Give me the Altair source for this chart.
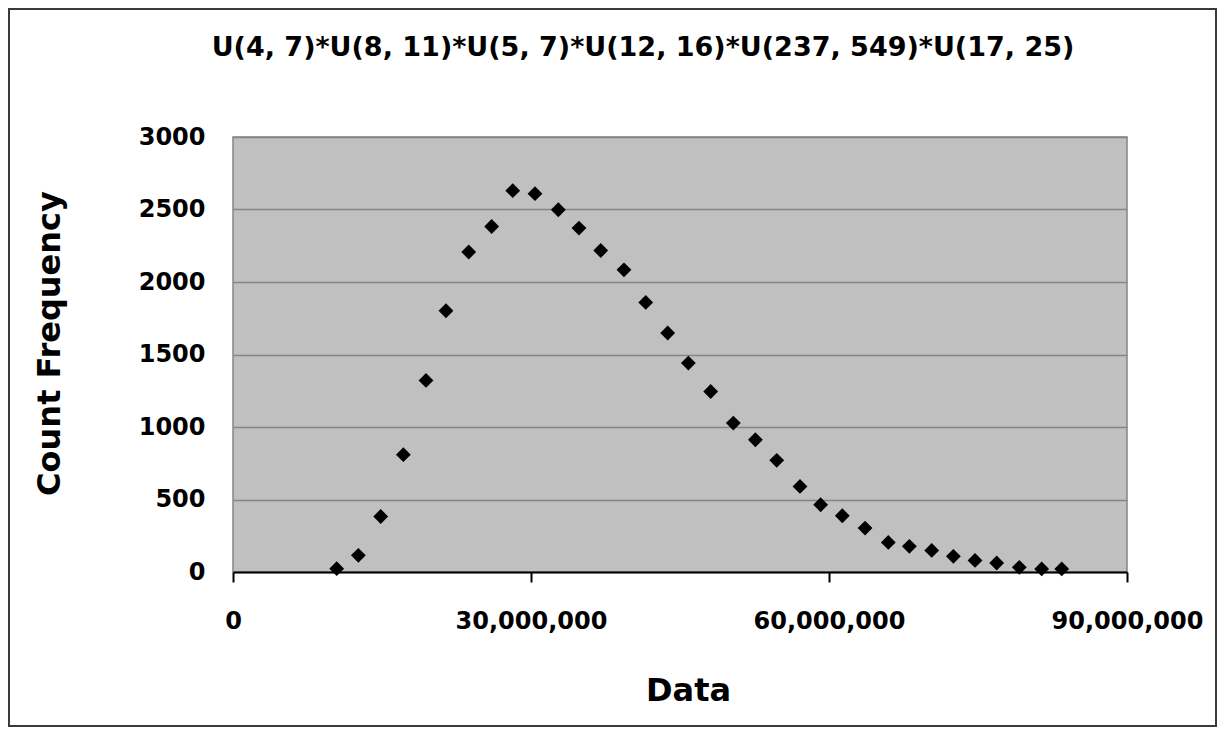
import altair as alt
import pandas as pd

# Data
data_x = [10440000, 12620000, 14870000, 17150000, 19430000, 21440000, 23730000,
          26040000, 28160000, 30400000, 32750000, 34830000, 37020000, 39360000,
          41550000, 43760000, 45840000, 48090000, 50370000, 52590000, 54740000,
          57080000, 59160000, 61340000, 63630000, 65970000, 68090000, 70340000,
          72520000, 74700000, 76880000, 79160000, 81410000, 83430000]
count_freq = [23, 115, 383, 809, 1321, 1802, 2207, 2383, 2630, 2609, 2498, 2372,
              2217, 2084, 1859, 1648, 1441, 1245, 1027, 912, 770, 590, 464, 388,
              303, 204, 177, 149, 108, 80, 62, 32, 21, 21]
x_ticks = [0, 30000000, 60000000, 90000000]
y_ticks = [0, 500, 1000, 1500, 2000, 2500, 3000]
title_text = "U(4, 7)*U(8, 11)*U(5, 7)*U(12, 16)*U(237, 549)*U(17, 25)"

df = pd.DataFrame({"Data": data_x, "Count": count_freq})

FONT = "DejaVu Sans"
PW, PH = 894, 435
PL, PT = 225, 129
TOTAL_W, TOTAL_H = 1209, 719

points = alt.Chart(df).mark_point(
    shape="diamond", filled=True, color="black", size=220, opacity=1
).encode(
    x=alt.X("Data:Q",
            scale=alt.Scale(domain=[0, 90000000], nice=False, zero=True),
            axis=alt.Axis(values=x_ticks, format=",d", title="Data",
                          grid=False, domain=True, domainColor="black",
                          domainWidth=2, ticks=True, tickColor="black",
                          tickWidth=2, tickSize=10, labelPadding=27,
                          labelFont=FONT, labelFontWeight="bold",
                          labelFontSize=24, labelColor="black",
                          labelFlush=False, labelOverlap=False,
                          titleFont=FONT, titleFontWeight="bold",
                          titleFontSize=32, titleColor="black",
                          titleX=455, titleY=128, titleAlign="center",
                          titleBaseline="alphabetic")),
    y=alt.Y("Count:Q",
            scale=alt.Scale(domain=[0, 3000], nice=False),
            axis=alt.Axis(values=y_ticks, format="d", title="Count Frequency",
                          grid=True, gridColor="#858585", gridWidth=1.5,
                          domain=False, ticks=False, tickSize=0,
                          labelPadding=28, labelFont=FONT,
                          labelFontWeight="bold", labelFontSize=24,
                          labelColor="black", labelFlush=False,
                          labelOverlap=False,
                          titleFont=FONT, titleFontWeight="bold",
                          titleFontSize=32, titleColor="black",
                          titleAngle=270, titleX=-174, titleY=206,
                          titleAlign="center", titleBaseline="alphabetic")),
)

frame = alt.Chart(pd.DataFrame({"a": [0]})).mark_rect(
    fill=None, stroke="#3a3a3a", strokeWidth=2
).encode(
    x=alt.value(1 - PL), x2=alt.value(TOTAL_W - 1 - PL),
    y=alt.value(1 - PT), y2=alt.value(TOTAL_H - 1 - PT),
)

chart = alt.layer(frame, points).properties(
    width=PW, height=PH,
    title=alt.TitleParams(title_text, font=FONT, fontWeight="bold",
                          fontSize=27, color="black", anchor="middle",
                          frame="group", baseline="alphabetic",
                          offset=0, dy=75, dx=-37),
    autosize=alt.AutoSizeParams(type="none"),
    padding={"left": PL, "top": PT, "right": TOTAL_W - PL - PW,
             "bottom": TOTAL_H - PT - PH},
).configure(
    background="white",
    view=alt.ViewConfig(fill="#C0C0C0", stroke="#858585", strokeWidth=1.5),
)

chart.save("out.html", embed_options={"renderer": "svg", "actions": False})
